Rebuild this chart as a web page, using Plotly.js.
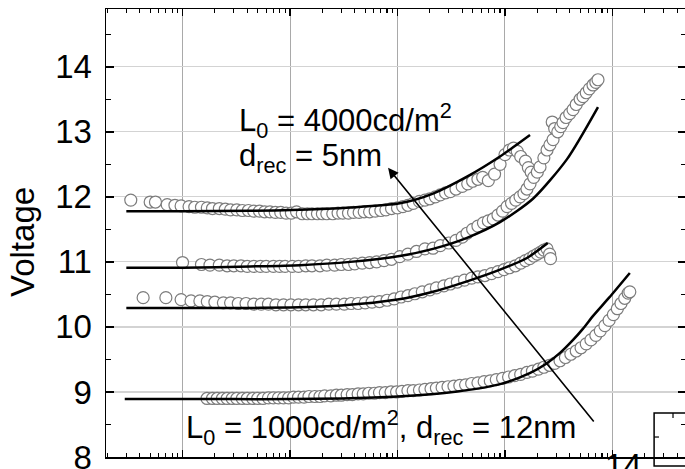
<!DOCTYPE html>
<html><head><meta charset="utf-8">
<script src="https://cdn.plot.ly/plotly-3.0.1.min.js"></script>
<style>html,body{margin:0;padding:0;overflow:hidden;background:#fff}</style>
</head><body><div id="chart"></div>
<script>
// Measured series (open circles)
const xA = [0.33,0.5,0.56,0.72,0.85,0.97,1.15,1.3,1.5,1.7,
  1.9,2.2,2.5,2.8,3.2,3.6,4.1,4.6,5.2,5.8,
  6.5,7.3,8.2,9.2,10.3,11.5,13,14.5,16,18,
  20,22,25,28,31,35,39,44,49,55,
  62,70,78,88,100,112,125,140,160,180,
  200,225,250,280,310,350,400,450,500,560,
  620,700,800,900,1000,1100,1200,1300,1400,1550,
  1650,1750];
const yA = [11.95,11.92,11.92,11.88,11.87,11.86,11.85,11.84,11.84,11.83,
  11.82,11.82,11.81,11.8,11.8,11.79,11.79,11.78,11.78,11.77,
  11.77,11.76,11.76,11.75,11.75,11.77,11.74,11.74,11.74,11.74,
  11.74,11.74,11.74,11.75,11.75,11.75,11.76,11.76,11.77,11.77,
  11.78,11.79,11.8,11.82,11.83,11.85,11.87,11.9,11.93,11.95,
  11.97,12.0,12.03,12.06,12.08,12.12,12.16,12.2,12.24,12.27,
  12.3,12.25,12.35,12.5,12.65,12.72,12.75,12.7,12.62,12.55,
  12.45,12.38];

const xB = [1.0,1.5,1.8,2.2,2.6,3.0,3.5,4.0,4.6,5.3,
  6,7,8,9,10.5,12,14,16,19,22,
  26,30,35,40,47,55,64,75,88,105,
  125,150,180,214,250,300,350,400,443,500,
  560,630,700,778,860,950,1045,1150,1260,1380,
  1500,1600,1709,1850,2000,2118,2300,2461,2620,2750,
  2800,2900,3100,3300,3465,3700,4000,4295,4600,5000,
  5320,5700,6100,6589,7000,7332];
const yB = [10.99,10.96,10.95,10.95,10.94,10.94,10.94,10.93,10.93,10.93,
  10.93,10.93,10.93,10.93,10.93,10.93,10.94,10.94,10.94,10.95,
  10.95,10.96,10.96,10.97,10.98,10.99,11.0,11.02,11.04,11.08,
  11.12,11.16,11.2,11.21,11.25,11.29,11.33,11.38,11.44,11.5,
  11.55,11.6,11.63,11.66,11.72,11.78,11.85,11.9,11.95,12.0,
  12.05,12.12,12.2,12.3,12.38,12.46,12.6,12.72,12.8,13.15,
  12.88,13.05,13.0,13.08,13.14,13.22,13.28,13.34,13.42,13.5,
  13.54,13.6,13.66,13.72,13.76,13.8];

const xC = [0.43,0.7,0.97,1.2,1.45,1.7,2.0,2.4,2.8,3.3,
  3.9,4.6,5.4,6.3,7.4,8.7,10.2,12,14,16.5,
  19.5,23,27,32,37,43,50,58,68,80,
  93,108,125,145,170,200,230,270,310,360,
  420,490,560,650,750,860,980,1100,1250,1400,
  1550,1700,1850,2000,2150,2300,2461,2600,2650];
const yC = [10.45,10.45,10.42,10.4,10.4,10.39,10.38,10.37,10.37,10.36,
  10.36,10.35,10.35,10.35,10.34,10.34,10.34,10.34,10.34,10.34,
  10.34,10.35,10.35,10.35,10.36,10.36,10.37,10.38,10.39,10.41,
  10.43,10.46,10.48,10.51,10.54,10.57,10.6,10.63,10.66,10.69,
  10.72,10.75,10.77,10.79,10.82,10.85,10.88,10.91,10.94,10.98,
  11.02,11.05,11.09,11.12,11.15,11.18,11.2,11.12,11.05];

const xD = [1.69,1.9,2.1,2.35,2.6,2.9,3.2,3.6,4.0,4.5,
  5.0,5.6,6.3,7.0,7.8,8.7,9.7,10.8,12,13.5,
  15,17,19,21,24,27,30,34,38,43,
  48,54,61,68,77,87,98,110,125,140,
  160,180,205,230,260,295,335,380,430,490,
  560,640,730,830,950,1080,1230,1400,1600,1800,
  2050,2300,2600,2900,3250,3650,4100,4600,5100,5700,
  6300,7000,7700,8500,9300,10200,11100,12000,13000,14000,
  14500];
const yD = [8.9,8.9,8.9,8.9,8.9,8.9,8.9,8.9,8.9,8.9,
  8.9,8.9,8.91,8.91,8.91,8.91,8.91,8.92,8.92,8.92,
  8.93,8.93,8.93,8.94,8.94,8.95,8.95,8.96,8.96,8.97,
  8.97,8.98,8.98,8.99,8.99,9.0,9.0,9.01,9.02,9.02,
  9.03,9.04,9.05,9.06,9.07,9.08,9.09,9.1,9.11,9.13,
  9.14,9.16,9.17,9.19,9.21,9.23,9.25,9.27,9.3,9.32,
  9.35,9.38,9.41,9.44,9.48,9.53,9.58,9.63,9.68,9.74,
  9.8,9.87,9.94,10.02,10.1,10.19,10.28,10.36,10.44,10.52,
  10.54];

// Fit curves (solid black lines)
const fitAx = [0.3,1,4.25,12.4,36.3,105,214,443,898,1709];
const fitAy = [11.78,11.78,11.785,11.8,11.835,11.9,12.05,12.31,12.62,12.95];
const fitBx = [0.3,1,4.25,12.4,36.3,105,214,443,898,1820,3777,7332];
const fitBy = [10.91,10.91,10.93,10.95,11.0,11.09,11.2,11.37,11.61,11.97,12.58,13.38];
const fitCx = [0.3,3,10,30,100,214,443,900,1600,2500];
const fitCy = [10.29,10.29,10.3,10.33,10.42,10.54,10.7,10.88,11.06,11.29];
const fitDx = [0.29,3,10,30,100,300,900,1700,2400,3250,4300,5300,6600,9300,14500];
const fitDy = [8.89,8.89,8.89,8.9,8.93,8.99,9.12,9.29,9.43,9.6,9.8,9.97,10.17,10.45,10.83];

const FONT = 'Liberation Sans, Arial, sans-serif';
const traces = [];
[[xA,yA],[xB,yB],[xC,yC],[xD,yD]].forEach(([x,y]) => traces.push({
  type:'scatter', mode:'markers', x:x, y:y, showlegend:false, hoverinfo:'skip',
  marker:{symbol:'circle', size:12, color:'white', line:{color:'#7c7c7c', width:1.2}}
}));
[[fitAx,fitAy],[fitBx,fitBy],[fitCx,fitCy],[fitDx,fitDy]].forEach(([x,y]) => traces.push({
  type:'scatter', mode:'lines', x:x, y:y, showlegend:false, hoverinfo:'skip',
  line:{color:'black', width:2.5, shape:'spline', smoothing:0.7}
}));

const layout = {
  width:700, height:480,
  margin:{l:106, r:14, t:9, b:23, pad:0},
  paper_bgcolor:'white', plot_bgcolor:'white',
  showlegend:false,
  font:{family:FONT, color:'black'},
  xaxis:{
    type:'log', range:[-0.712, 4.684], dtick:1,
    showgrid:true, gridcolor:'#a9a9a9', gridwidth:1,
    ticks:'inside', ticklen:7, tickwidth:1.5, tickcolor:'black',
    showline:true, linecolor:'black', linewidth:1.5, mirror:'ticks',
    showticklabels:false, zeroline:false,
    minor:{ticks:'inside', ticklen:4, tickwidth:1.2, tickcolor:'black', showgrid:false}
  },
  yaxis:{
    range:[8, 14.888], dtick:1,
    showgrid:true, gridcolor:'#d3d3d3', gridwidth:1.2,
    ticks:'inside', ticklen:8, tickwidth:1.5, tickcolor:'black',
    showline:true, linecolor:'black', linewidth:1.5, mirror:'ticks',
    zeroline:false, ticklabelstandoff:6,
    tickfont:{size:33, family:FONT, color:'black'},
    minor:{dtick:0.5, ticks:'inside', ticklen:5, tickwidth:1.2, tickcolor:'black', showgrid:false},
    title:{text:''}
  },
  annotations:[
    {xref:'paper', yref:'paper', x:-0.143, y:0.48, xanchor:'center', yanchor:'middle', textangle:-90, showarrow:false,
     text:'Voltage', font:{size:33, family:FONT, color:'black'}},
    {xref:'x', yref:'y', x:0.507, y:13.17, xanchor:'left', yanchor:'middle', showarrow:false,
     text:'L<sub>0</sub> = 4000cd/m<sup>2</sup>', font:{size:31, family:FONT, color:'black'}},
    {xref:'x', yref:'y', x:0.507, y:12.6, xanchor:'left', yanchor:'middle', showarrow:false,
     text:'d<sub>rec</sub> = 5nm', font:{size:31, family:FONT, color:'black'}},
    {xref:'x', yref:'y', x:1.847, y:8.46, xanchor:'center', yanchor:'middle', showarrow:false,
     text:'L<sub>0</sub> = 1000cd/m<sup>2</sup>, d<sub>rec</sub> = 12nm', font:{size:31, family:FONT, color:'black'}},
    {xref:'x', yref:'y', x:1.912, y:12.446, axref:'x', ayref:'y', ax:3.837, ay:8.523,
     text:'', showarrow:true, arrowhead:2, arrowsize:1.3, arrowwidth:1.6, arrowcolor:'black', standoff:0, startstandoff:0},
    {xref:'paper', yref:'paper', x:0.857, y:0.026, xanchor:'left', yanchor:'top', showarrow:false,
     text:'14', font:{size:33, family:FONT, color:'black'}}
  ],
  shapes:[
    {type:'rect', xref:'paper', yref:'paper', x0:0.945, x1:1.1, y0:-0.02, y1:0.0982, line:{color:'black', width:1.5}, fillcolor:'rgba(0,0,0,0)'},
    {type:'line', xref:'paper', yref:'paper', x0:0.9776, x1:0.9776, y0:0.087, y1:0.0982, line:{color:'black', width:1.2}},
    {type:'line', xref:'paper', yref:'paper', x0:0.945, x1:0.9534, y0:0.0446, y1:0.0446, line:{color:'black', width:1.2}}
  ]
};
Plotly.newPlot('chart', traces, layout, {staticPlot:true, displayModeBar:false});
</script></body></html>
